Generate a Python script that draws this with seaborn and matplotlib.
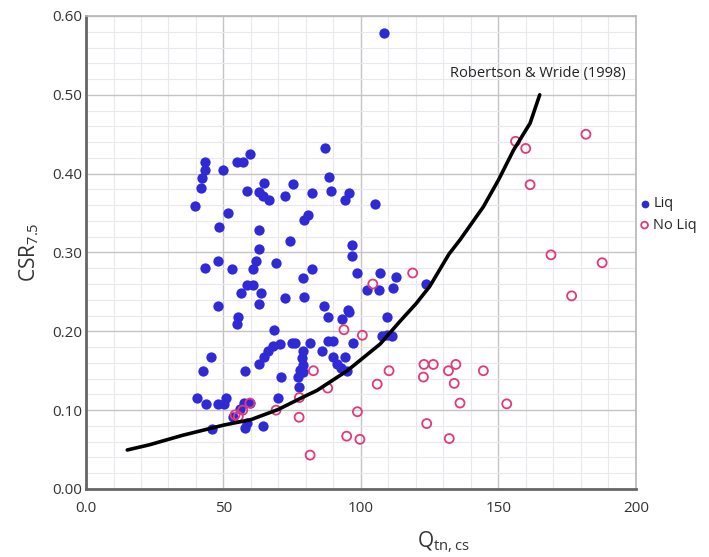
import numpy as np
import pandas as pd
import matplotlib
matplotlib.use("Agg")
import matplotlib.pyplot as plt
from matplotlib.ticker import MultipleLocator, FixedLocator, FixedFormatter
import seaborn as sns

# -------------------------------
# DATA
# -------------------------------
liq_q = [108.5, 43.3, 43.3, 42.3, 41.8, 39.6, 49.9, 54.8, 57.0, 59.6,
         58.7, 64.7, 63.0, 64.5, 66.7, 72.4, 75.2, 51.6, 48.4, 63.0,
         74.2, 63.0, 47.9, 43.3, 53.2, 61.8, 60.8, 69.1, 58.4, 60.8,
         56.2, 63.5, 48.1, 63.0, 72.2, 86.9, 88.5, 82.1, 89.0, 95.8,
         94.2, 105.2, 80.8, 79.3, 96.9, 96.9, 82.1, 78.8, 98.4, 106.9,
         112.7, 102.1, 106.7, 111.7, 123.6, 79.3, 86.7, 95.4, 55.4, 54.8,
         68.5, 45.5, 42.7, 57.8, 62.9, 64.7, 66.3, 68.1, 70.5, 70.9,
         40.3, 43.6, 47.9, 50.9, 50.2, 69.9, 45.7, 57.8, 64.5, 57.6,
         59.6, 56.0, 53.3, 58.4, 88.1, 93.0, 95.6, 109.3, 74.8, 76.0,
         81.5, 79.0, 85.7, 88.1, 89.9, 97.2, 89.9, 94.2, 91.4, 92.6,
         94.8, 78.4, 79.0, 77.8, 79.0, 77.2, 77.5, 107.5, 109.3, 111.2]
liq_csr = [0.579, 0.415, 0.405, 0.395, 0.382, 0.359, 0.405, 0.415, 0.415, 0.425,
           0.378, 0.388, 0.377, 0.372, 0.366, 0.372, 0.387, 0.350, 0.332, 0.328,
           0.314, 0.304, 0.289, 0.280, 0.279, 0.289, 0.279, 0.287, 0.259, 0.259,
           0.248, 0.248, 0.232, 0.235, 0.242, 0.432, 0.396, 0.376, 0.378, 0.375,
           0.367, 0.361, 0.347, 0.341, 0.309, 0.296, 0.279, 0.268, 0.274, 0.274,
           0.269, 0.252, 0.252, 0.255, 0.260, 0.243, 0.232, 0.227, 0.218, 0.209,
           0.202, 0.167, 0.150, 0.150, 0.158, 0.167, 0.175, 0.181, 0.184, 0.142,
           0.116, 0.108, 0.108, 0.116, 0.108, 0.116, 0.076, 0.077, 0.080, 0.109,
           0.109, 0.102, 0.091, 0.084, 0.218, 0.216, 0.224, 0.218, 0.185, 0.185,
           0.185, 0.175, 0.175, 0.188, 0.188, 0.185, 0.167, 0.167, 0.159, 0.153,
           0.150, 0.166, 0.157, 0.151, 0.149, 0.142, 0.129, 0.194, 0.195, 0.194]

noliq_q = [104.3, 118.8, 93.8, 100.5, 82.7, 87.9, 77.6, 77.5, 98.7, 94.8,
           99.6, 105.9, 110.2, 122.9, 122.7, 123.9, 81.5, 126.3, 131.8, 134.5,
           133.9, 144.5, 136.0, 153.0, 132.1, 169.1, 176.6, 187.7, 156.2, 159.9,
           161.5, 181.8, 54.2, 55.4, 57.0, 59.6, 69.1]
noliq_csr = [0.260, 0.274, 0.202, 0.195, 0.150, 0.128, 0.116, 0.091, 0.098, 0.067,
             0.063, 0.133, 0.150, 0.158, 0.142, 0.083, 0.043, 0.158, 0.150, 0.158,
             0.134, 0.150, 0.109, 0.108, 0.064, 0.297, 0.245, 0.287, 0.441, 0.432,
             0.386, 0.450, 0.094, 0.092, 0.100, 0.109, 0.100]

# Robertson & Wride (1998) boundary
curve_q = [15, 23, 35, 50, 60, 70, 78, 84, 95, 107, 114, 120, 125, 132, 136,
           144.5, 150, 155.5, 161.5, 165]
curve_csr = [0.0495, 0.056, 0.068, 0.081, 0.088, 0.101, 0.115, 0.125, 0.150, 0.184,
             0.212, 0.235, 0.257, 0.298, 0.316, 0.358, 0.392, 0.430, 0.464, 0.500]

x_ticks = [0, 50, 100, 150, 200]
x_tick_labels = ["0.0", "50", "100", "150", "200"]
y_ticks = [0.0, 0.1, 0.2, 0.3, 0.4, 0.5, 0.6]
y_tick_labels = ["0.00", "0.10", "0.20", "0.30", "0.40", "0.50", "0.60"]

BLUE = "#2f2ad6"
PINK = "#e03a7c"

sns.set_theme(style="white")
plt.rcParams["font.family"] = ["Open Sans", "DejaVu Sans"]
plt.rcParams["mathtext.fontset"] = "custom"
plt.rcParams["mathtext.rm"] = "Open Sans"

liq = pd.DataFrame({"q": liq_q, "csr": liq_csr})
noliq = pd.DataFrame({"q": noliq_q, "csr": noliq_csr})
curve = pd.DataFrame({"q": curve_q, "csr": curve_csr})

fig = plt.figure(figsize=(7.09, 5.57), dpi=100)
ax = fig.add_axes([0.1213, 0.1221, 0.7757, 0.8492])

# grid
ax.set_axisbelow(True)
ax.xaxis.set_minor_locator(MultipleLocator(10))
ax.yaxis.set_minor_locator(MultipleLocator(0.02))
ax.grid(which="major", color="#c4c4c4", linewidth=1.0)
ax.grid(which="minor", color="#e8e8ee", linewidth=0.8)

sns.scatterplot(data=liq, x="q", y="csr", color=BLUE, s=55, edgecolor=BLUE,
                linewidth=0, label="Liq", ax=ax, zorder=3)
sns.scatterplot(data=noliq, x="q", y="csr", color=PINK, facecolor="none",
                edgecolor=PINK, s=42, linewidth=1.3, label="No Liq", ax=ax, zorder=4)
sns.lineplot(data=curve, x="q", y="csr", color="black", linewidth=2.6,
             sort=False, ax=ax, zorder=5)

ax.text(132.4, 0.527, "Robertson & Wride (1998)", fontsize=10.5, color="#222222",
        ha="left", va="center")

ax.set_xlim(0, 200)
ax.set_ylim(0, 0.6)
ax.xaxis.set_major_locator(FixedLocator(x_ticks))
ax.xaxis.set_major_formatter(FixedFormatter(x_tick_labels))
ax.yaxis.set_major_locator(FixedLocator(y_ticks))
ax.yaxis.set_major_formatter(FixedFormatter(y_tick_labels))
ax.tick_params(which="both", length=0, labelsize=11, labelcolor="#333333")
ax.tick_params(axis="x", pad=9)
ax.tick_params(axis="y", pad=3)

for side in ["left", "bottom"]:
    ax.spines[side].set_color("#666666")
    ax.spines[side].set_linewidth(2.0)
for side in ["top", "right"]:
    ax.spines[side].set_color("#b8b8b8")
    ax.spines[side].set_linewidth(1.2)

ax.set_xlabel(r"Q$_{\mathregular{tn,cs}}$", fontsize=15, color="#333333", labelpad=8)
ax.xaxis.set_label_coords(0.65, -0.085)
ax.set_ylabel(r"CSR$_{\mathregular{7.5}}$", fontsize=15, color="#333333", labelpad=8)

leg = ax.legend(loc="center left", bbox_to_anchor=(1.005, 0.58), frameon=False,
                fontsize=10.5, handletextpad=0.3, handlelength=0.6, markerscale=0.75,
                borderaxespad=0, borderpad=0.1, labelspacing=0.45)

fig.savefig("out.png", dpi=100)
